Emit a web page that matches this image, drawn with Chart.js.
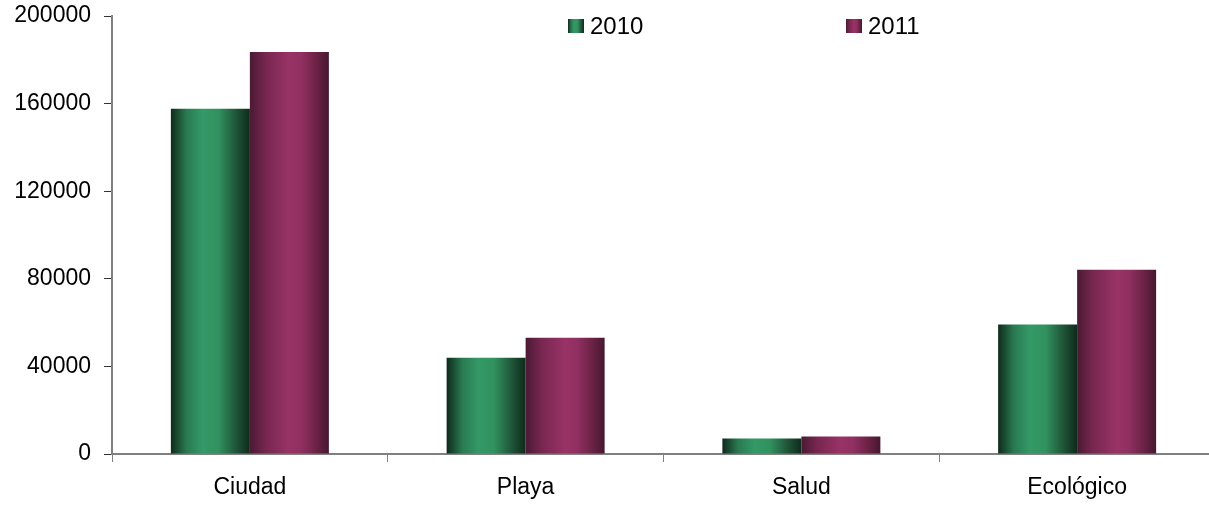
<!DOCTYPE html>
<html>
<head>
<meta charset="utf-8">
<script src="https://cdn.jsdelivr.net/npm/chart.js@4"></script>
<style>
  html, body { margin: 0; padding: 0; background: #fff; overflow: hidden; }
  #wrap { width: 1216px; height: 510px; position: relative; }
</style>
</head>
<body>
<div id="wrap"><canvas id="myChart"></canvas></div>
<script>
// data
const categories = ['Ciudad', 'Playa', 'Salud', 'Ecológico'];
const values2010 = [157600, 44000, 7100, 59100];
const values2011 = [183600, 53100, 8000, 84100];
const yTicks = [0, 40000, 80000, 120000, 160000, 200000];

const catPct = 0.573;
const greenStops = [[0, '#0e2b1b'], [0.2, '#2a7a52'], [0.4, '#339966'], [0.6, '#31925f'], [0.85, '#1d4e34'], [1, '#0e2b1b']];
const purpleStops = [[0, '#4a1a33'], [0.2, '#772750'], [0.5, '#993366'], [0.65, '#913062'], [0.85, '#6a2244'], [1, '#451830']];
const fontFam = '"Liberation Sans", Arial, sans-serif';

function barGradient(stops, solid) {
    return function(ctx) {
        const chart = ctx.chart;
        if (!chart.chartArea || ctx.type !== 'data') return solid;
        const xs = chart.scales.x;
        const center = xs.getPixelForValue(ctx.dataIndex);
        const barW = xs.width / categories.length * catPct / 2;
        const left = center - barW + ctx.datasetIndex * barW;
        const g = chart.ctx.createLinearGradient(left, 0, left + barW, 0);
        stops.forEach(s => g.addColorStop(s[0], s[1]));
        return g;
    };
}

// legend drawn inside the plot area, like the original
const legendPlugin = {
    id: 'insideLegend',
    afterDraw(chart) {
        const c = chart.ctx;
        const spots = [568, 846];
        const stopsList = [greenStops, purpleStops];
        c.save();
        chart.data.datasets.forEach((ds, i) => {
            const x = spots[i], y = 19;
            const g = c.createLinearGradient(x, 0, x + 16, 0);
            stopsList[i].forEach(s => g.addColorStop(s[0], s[1]));
            c.fillStyle = g;
            c.fillRect(x, y, 16, 14);
            c.fillStyle = '#000';
            c.font = '24px ' + fontFam;
            c.textBaseline = 'alphabetic';
            c.fillText(ds.label, x + 22, y + 15);
        });
        c.restore();
    }
};

const ctx = document.getElementById('myChart').getContext('2d');
const myChart = new Chart(ctx, {
    type: 'bar',
    data: {
        labels: categories,
        datasets: [{
            label: '2010',
            data: values2010,
            backgroundColor: barGradient(greenStops, '#339966'),
            borderWidth: 0,
        }, {
            label: '2011',
            data: values2011,
            backgroundColor: barGradient(purpleStops, '#993366'),
            borderWidth: 0,
        }]
    },
    options: {
        responsive: true,
        maintainAspectRatio: false,
        animation: false,
        layout: { padding: { top: 16, right: 1, left: 0, bottom: 0 } },
        datasets: { bar: { categoryPercentage: catPct, barPercentage: 1.0 } },
        scales: {
            x: {
                grid: { display: true, drawOnChartArea: false, drawTicks: true, tickLength: 8, color: '#808080', offset: true },
                border: { display: true, color: '#808080', width: 2 },
                ticks: { color: '#000', padding: 12, font: { size: 23, family: fontFam } },
                afterFit: s => { s.height = 56; s.paddingLeft = 0; s.paddingRight = 0; },
            },
            y: {
                min: 0,
                max: 200000,
                afterBuildTicks: s => { s.ticks = yTicks.map(v => ({ value: v })); },
                grid: { display: true, drawOnChartArea: false, drawTicks: true, tickLength: 8, color: '#333' },
                border: { display: true, color: '#808080', width: 2 },
                ticks: {
                    color: '#000',
                    padding: 13,
                    font: { size: 23, family: fontFam },
                    callback: v => String(v),
                },
                afterFit: s => { s.width = 112; s.paddingTop = 0; s.paddingBottom = 0; },
            },
        },
        plugins: {
            legend: { display: false },
            tooltip: { enabled: false },
        }
    },
    plugins: [legendPlugin]
});
</script>
</body>
</html>
